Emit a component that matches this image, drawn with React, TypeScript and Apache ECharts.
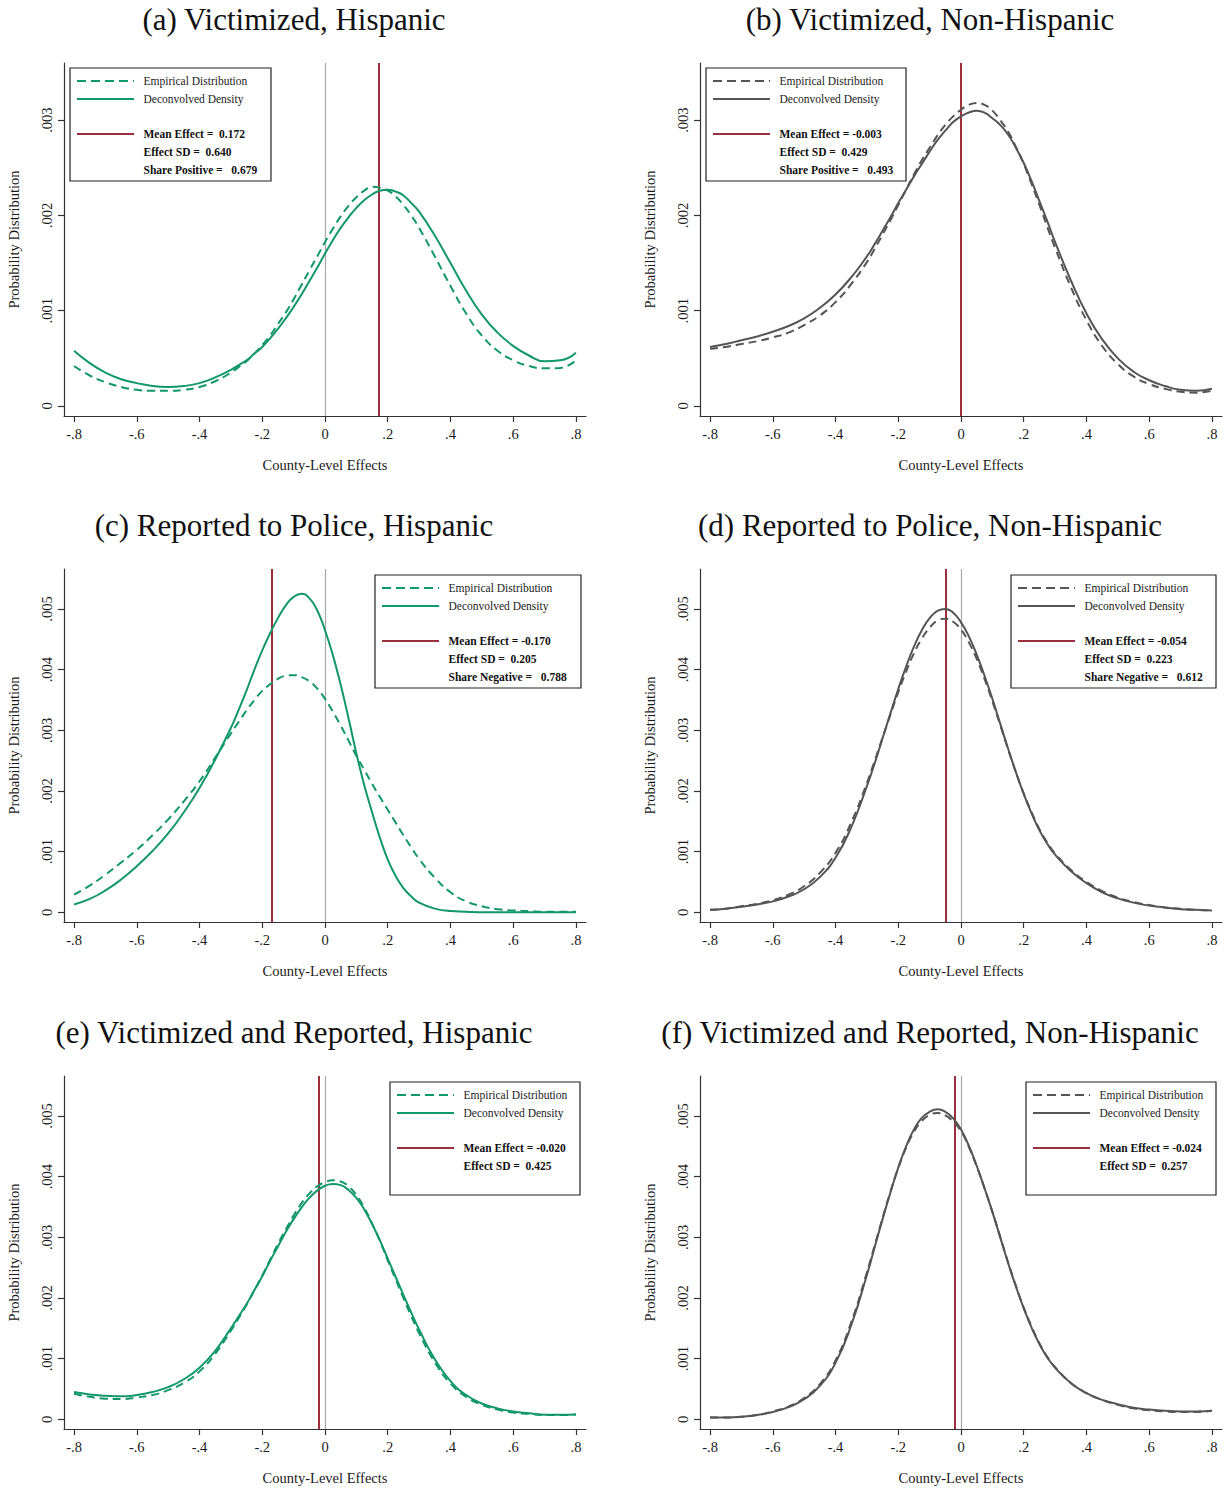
import React, { useEffect, useRef } from "react";
import * as echarts from "echarts";

// Shared x grid (county-level effects): 0.05 steps in the tails, 0.025 in the centre
const X = [
  -0.8, -0.75, -0.7, -0.65, -0.6, -0.55, -0.5, -0.45, -0.4, -0.35, -0.3,
  -0.275, -0.25, -0.225, -0.2, -0.175, -0.15, -0.125, -0.1, -0.075, -0.05, -0.025, 0,
  0.025, 0.05, 0.075, 0.1, 0.125, 0.15, 0.175, 0.2, 0.225, 0.25, 0.275, 0.3,
  0.35, 0.4, 0.45, 0.5, 0.55, 0.6, 0.65, 0.7, 0.75, 0.8,
];

// (a) Victimized, Hispanic
const VIC_HISP_EMP = [
  0.00042, 0.00032, 0.00025, 0.0002, 0.00017, 0.00016, 0.00016, 0.00017, 0.0002, 0.00026, 0.00035,
  0.00041, 0.00047, 0.00055, 0.00064, 0.00074, 0.00086, 0.00098, 0.00112, 0.00127, 0.00142, 0.00157, 0.00172,
  0.00186, 0.00199, 0.0021, 0.00219, 0.00226, 0.0023, 0.00229, 0.00226, 0.0022, 0.00211, 0.002, 0.00187,
  0.00157, 0.00126, 0.00097, 0.00074, 0.00058, 0.00048, 0.00042, 0.000395, 0.0004, 0.00048,
];
const VIC_HISP_DEC = [
  0.00058, 0.00045, 0.00035, 0.00028, 0.00024, 0.00021, 0.0002, 0.00021, 0.00024, 0.0003, 0.00038,
  0.00043, 0.00048, 0.00055, 0.00062, 0.00071, 0.00081, 0.00092, 0.00104, 0.00117, 0.00131, 0.00145, 0.0016,
  0.00174, 0.00187, 0.00198, 0.00208, 0.00216, 0.00222, 0.00226, 0.00227, 0.00225, 0.00221, 0.00213, 0.00204,
  0.00179, 0.0015, 0.00121, 0.00096, 0.00077, 0.00063, 0.00053, 0.00047, 0.00048, 0.00056,
];
// (b) Victimized, Non-Hispanic
const VIC_NONHISP_EMP = [
  0.0006, 0.00062, 0.00065, 0.00068, 0.00072, 0.00077, 0.00085, 0.00095, 0.00109, 0.00128, 0.00151,
  0.00165, 0.0018, 0.00195, 0.00211, 0.00227, 0.00243, 0.00258, 0.00271, 0.00284, 0.00295, 0.00304, 0.00311,
  0.00316, 0.00318, 0.00316, 0.0031, 0.003, 0.00288, 0.00272, 0.00254, 0.00233, 0.00211, 0.00188, 0.00166,
  0.00125, 0.0009, 0.00063, 0.00044, 0.00031, 0.00023, 0.00018, 0.00015, 0.00014, 0.00016,
];
const VIC_NONHISP_DEC = [
  0.00062, 0.00065, 0.00069, 0.00073, 0.00078, 0.00084, 0.00092, 0.00103, 0.00117, 0.00135, 0.00157,
  0.0017, 0.00184, 0.00198, 0.00213, 0.00227, 0.00241, 0.00254, 0.00267, 0.00279, 0.00289, 0.00298, 0.00304,
  0.00308, 0.0031, 0.00308, 0.00302, 0.00295, 0.00285, 0.00271, 0.00255, 0.00236, 0.00215, 0.00194, 0.00172,
  0.00132, 0.00097, 0.0007, 0.0005, 0.00036, 0.00027, 0.00021, 0.00017, 0.00016, 0.00018,
];
// (c) Reported to Police, Hispanic
const REP_HISP_EMP = [
  0.00029, 0.00044, 0.00062, 0.00082, 0.00103, 0.00127, 0.00153, 0.00183, 0.00216, 0.00255, 0.00295,
  0.00314, 0.00333, 0.0035, 0.00365, 0.00376, 0.00385, 0.0039, 0.00391, 0.00388, 0.00381, 0.00369, 0.00352,
  0.00331, 0.00308, 0.00283, 0.00258, 0.00235, 0.00212, 0.0019, 0.00169, 0.00148, 0.00127, 0.00107, 0.00088,
  0.00057, 0.00033, 0.00018, 0.0001, 0.00005, 0.00003, 0.00002, 0.00001, 0.00001, 0.00001,
];
const REP_HISP_DEC = [
  0.00013, 0.00022, 0.00036, 0.00054, 0.00076, 0.00101, 0.0013, 0.00165, 0.00205, 0.00252, 0.00304,
  0.00334, 0.00366, 0.004, 0.00432, 0.0046, 0.00485, 0.00506, 0.0052, 0.00525, 0.00518, 0.00498, 0.00465,
  0.00424, 0.00375, 0.0032, 0.00262, 0.0021, 0.00165, 0.00123, 0.00087, 0.0006, 0.0004, 0.00026, 0.00016,
  0.00006, 0.00002, 0.00001, 0, 0, 0, 0, 0, 0, 0,
];
// (d) Reported to Police, Non-Hispanic
const REP_NONHISP_EMP = [
  0.00004, 0.00006, 0.0001, 0.00014, 0.0002, 0.00029, 0.00043, 0.00065, 0.00098, 0.00148, 0.00213,
  0.0025, 0.00288, 0.00326, 0.00363, 0.00397, 0.00427, 0.00451, 0.00469, 0.00481, 0.00484, 0.00479, 0.00466,
  0.00445, 0.00418, 0.00385, 0.00348, 0.00309, 0.00269, 0.00231, 0.00196, 0.00165, 0.00137, 0.00115, 0.00097,
  0.0007, 0.0005, 0.00035, 0.00024, 0.00017, 0.00012, 0.00008, 0.00006, 0.00004, 0.00003,
];
const REP_NONHISP_DEC = [
  0.00004, 0.00006, 0.00009, 0.00013, 0.00018, 0.00026, 0.00038, 0.00058, 0.0009, 0.0014, 0.00208,
  0.00246, 0.00287, 0.00328, 0.00368, 0.00405, 0.00438, 0.00465, 0.00485, 0.00497, 0.005, 0.00494, 0.00478,
  0.00455, 0.00425, 0.0039, 0.00352, 0.00311, 0.0027, 0.00231, 0.00195, 0.00163, 0.00135, 0.00113, 0.00095,
  0.00068, 0.00048, 0.00033, 0.00023, 0.00016, 0.00011, 0.00008, 0.00005, 0.00004, 0.00003,
];
// (e) Victimized and Reported, Hispanic
const VR_HISP_EMP = [
  0.00042, 0.00037, 0.00034, 0.000335, 0.00036, 0.0004, 0.00048, 0.0006, 0.00079, 0.00108, 0.00146,
  0.00167, 0.00189, 0.00213, 0.00237, 0.00263, 0.00289, 0.00313, 0.00336, 0.00356, 0.00372, 0.00384, 0.00391,
  0.00394, 0.00392, 0.00384, 0.0037, 0.00349, 0.00323, 0.00294, 0.00262, 0.00231, 0.002, 0.0017, 0.00142,
  0.00094, 0.00059, 0.00037, 0.00024, 0.00016, 0.00011, 0.00009, 0.00007, 0.00007, 0.00008,
];
const VR_HISP_DEC = [
  0.00045, 0.00041, 0.00039, 0.00038, 0.0004, 0.00045, 0.00053, 0.00066, 0.00085, 0.00113, 0.0015,
  0.0017, 0.0019, 0.00213, 0.00236, 0.00261, 0.00285, 0.00309, 0.0033, 0.00349, 0.00365, 0.00377, 0.00385,
  0.00388, 0.00386, 0.00378, 0.00365, 0.00346, 0.00322, 0.00295, 0.00265, 0.00235, 0.00205, 0.00176, 0.00148,
  0.00099, 0.00063, 0.0004, 0.00026, 0.00018, 0.00013, 0.0001, 0.000075, 0.000075, 0.00008,
];
// (f) Victimized and Reported, Non-Hispanic
const VR_NONHISP_EMP = [
  0.00003, 0.00003, 0.00004, 0.00007, 0.00013, 0.00021, 0.00035, 0.00058, 0.00097, 0.0016, 0.00242,
  0.00287, 0.00332, 0.00375, 0.00414, 0.00448, 0.00474, 0.00492, 0.00502, 0.00505, 0.00501, 0.00491, 0.00475,
  0.00449, 0.00417, 0.00381, 0.00342, 0.00301, 0.00259, 0.0022, 0.00184, 0.00153, 0.00125, 0.00103, 0.00086,
  0.0006, 0.00043, 0.00032, 0.00024, 0.00018, 0.00015, 0.00013, 0.00012, 0.00012, 0.00014,
];
const VR_NONHISP_DEC = [
  0.00003, 0.00003, 0.00004, 0.00007, 0.00012, 0.0002, 0.00033, 0.00055, 0.00093, 0.00155, 0.00238,
  0.00284, 0.0033, 0.00374, 0.00415, 0.0045, 0.00478, 0.00497, 0.00507, 0.00511, 0.00507, 0.00496, 0.00478,
  0.00451, 0.00418, 0.00381, 0.00342, 0.003, 0.00258, 0.00219, 0.00183, 0.00151, 0.00124, 0.00102, 0.00085,
  0.0006, 0.00043, 0.00032, 0.00025, 0.00019, 0.00016, 0.00014, 0.00013, 0.00013, 0.00014,
];

const MEAN_EFFECTS = [0.172, -0.003, -0.17, -0.054, -0.02, -0.024];

const TITLES = [
  "(a) Victimized, Hispanic",
  "(b) Victimized, Non-Hispanic",
  "(c) Reported to Police, Hispanic",
  "(d) Reported to Police, Non-Hispanic",
  "(e) Victimized and Reported, Hispanic",
  "(f) Victimized and Reported, Non-Hispanic",
];

const STATS = [
  ["Mean Effect =  0.172", "Effect SD =  0.640", "Share Positive =   0.679"],
  ["Mean Effect = -0.003", "Effect SD =  0.429", "Share Positive =   0.493"],
  ["Mean Effect = -0.170", "Effect SD =  0.205", "Share Negative =   0.788"],
  ["Mean Effect = -0.054", "Effect SD =  0.223", "Share Negative =   0.612"],
  ["Mean Effect = -0.020", "Effect SD =  0.425"],
  ["Mean Effect = -0.024", "Effect SD =  0.257"],
];

const LEGEND_LABELS = ["Empirical Distribution", "Deconvolved Density"];
const X_TICKS = [-0.8, -0.6, -0.4, -0.2, 0, 0.2, 0.4, 0.6, 0.8];
const Y_TICKS_ROW1 = [0, 0.001, 0.002, 0.003];
const Y_TICKS_ROW23 = [0, 0.001, 0.002, 0.003, 0.004, 0.005];

const EMP = [VIC_HISP_EMP, VIC_NONHISP_EMP, REP_HISP_EMP, REP_NONHISP_EMP, VR_HISP_EMP, VR_NONHISP_EMP];
const DEC = [VIC_HISP_DEC, VIC_NONHISP_DEC, REP_HISP_DEC, REP_NONHISP_DEC, VR_HISP_DEC, VR_NONHISP_DEC];

// Layout (styles)
const GREEN = "#12976b";
const GRAY = "#555555";
const RED = "#9b303c";
const SERIF = '"Liberation Serif", "Times New Roman", serif';
const COL_LEFT = [64, 700];
const ROW_TOP = [63, 569, 1076];
const GRID_W = 522;
const GRID_H = 353;
const TITLE_X = [294, 930];
const LEGEND_BOX = [
  { x: 70, y: 68, w: 201 },
  { x: 706, y: 68, w: 200 },
  { x: 375, y: 575, w: 206 },
  { x: 1011, y: 575, w: 205 },
  { x: 390, y: 1082, w: 190 },
  { x: 1026, y: 1082, w: 190 },
];

const fmtX = (v: number) => (Math.abs(v) < 1e-9 ? "0" : v.toFixed(1).replace("0.", "."));
const fmtY = (v: number) => (Math.abs(v) < 1e-12 ? "0" : v.toFixed(3).replace("0.", "."));
const nb = (s: string) => s.replace(/  /g, "\u00a0 ");

export default function App() {
  const ref = useRef<HTMLDivElement>(null);

  useEffect(() => {
    if (!ref.current) return;
    const chart = echarts.init(ref.current, null, { renderer: "svg" });

    const grids: any[] = [];
    const xAxes: any[] = [];
    const yAxes: any[] = [];
    const series: any[] = [];
    const graphics: any[] = [];

    for (let i = 0; i < 6; i++) {
      const col = i % 2;
      const row = Math.floor(i / 2);
      const left = COL_LEFT[col];
      const top = ROW_TOP[row];
      const color = col === 0 ? GREEN : GRAY;
      const yTicks = row === 0 ? Y_TICKS_ROW1 : Y_TICKS_ROW23;
      const yMin = row === 0 ? -0.000105 : -0.00016;
      const yMax = row === 0 ? 0.0036 : 0.00566;

      grids.push({ left, top, width: GRID_W, height: GRID_H, containLabel: false });

      xAxes.push({
        gridIndex: i,
        type: "value",
        min: -0.832,
        max: 0.832,
        axisLine: { onZero: false, lineStyle: { color: "#333", width: 1.2 } },
        axisTick: { customValues: X_TICKS, length: 6, lineStyle: { color: "#333", width: 1.2 } },
        axisLabel: {
          customValues: X_TICKS,
          formatter: fmtX,
          margin: 10,
          fontFamily: SERIF,
          fontSize: 14.5,
          color: "#1a1a1a",
        },
        splitLine: { show: false },
        name: "County-Level Effects",
        nameLocation: "middle",
        nameGap: 41,
        nameTextStyle: { fontFamily: SERIF, fontSize: 14.5, color: "#1a1a1a" },
      });

      yAxes.push({
        gridIndex: i,
        type: "value",
        min: yMin,
        max: yMax,
        axisLine: { show: true, onZero: false, lineStyle: { color: "#333", width: 1.2 } },
        axisTick: { show: true, customValues: yTicks, length: 6, lineStyle: { color: "#333", width: 1.2 } },
        axisLabel: {
          customValues: yTicks,
          formatter: fmtY,
          rotate: 90,
          margin: 9.5,
          fontFamily: SERIF,
          fontSize: 14.5,
          color: "#1a1a1a",
        },
        splitLine: { show: false },
        name: "Probability Distribution",
        nameLocation: "middle",
        nameGap: 42.5,
        nameTextStyle: { fontFamily: SERIF, fontSize: 14.5, color: "#1a1a1a" },
      });

      series.push({
        type: "line",
        xAxisIndex: i,
        yAxisIndex: i,
        name: LEGEND_LABELS[0],
        data: X.map((x, j) => [x, EMP[i][j]]),
        smooth: 0.5,
        showSymbol: false,
        symbol: "none",
        z: 3,
        lineStyle: { color, width: 2, type: [8, 5] },
      });
      series.push({
        type: "line",
        xAxisIndex: i,
        yAxisIndex: i,
        name: LEGEND_LABELS[1],
        data: X.map((x, j) => [x, DEC[i][j]]),
        smooth: 0.5,
        showSymbol: false,
        symbol: "none",
        z: 3,
        lineStyle: { color, width: 2, type: "solid" },
        markLine: {
          silent: true,
          symbol: ["none", "none"],
          label: { show: false },
          animation: false,
          z: 2,
          data: [
            { xAxis: 0, lineStyle: { color: "#a8a8a8", width: 1.2, type: "solid" } },
            { xAxis: MEAN_EFFECTS[i], lineStyle: { color: RED, width: 2, type: "solid" } },
          ],
        },
      });

      // Title
      graphics.push({
        type: "text",
        x: TITLE_X[col],
        y: top - 44,
        style: {
          text: TITLES[i],
          font: `31px ${SERIF}`,
          fill: "#111",
          align: "center",
          verticalAlign: "middle",
          textAlign: "center",
          textVerticalAlign: "middle",
        },
      });

      // Legend box
      const b = LEGEND_BOX[i];
      graphics.push({
        type: "rect",
        shape: { x: b.x, y: b.y, width: b.w, height: 113 },
        style: { fill: "#fff", stroke: "#222", lineWidth: 1.2 },
        z: 10,
      });
      const lx1 = b.x + 7;
      const lx2 = b.x + 64;
      const tx = b.x + 73.5;
      const rowsY = [13, 31, 66, 84, 102].map((d) => b.y + d);
      graphics.push({
        type: "line",
        shape: { x1: lx1, y1: rowsY[0], x2: lx2, y2: rowsY[0] },
        style: { stroke: color, lineWidth: 2, lineDash: [9, 5] },
        z: 11,
      });
      graphics.push({
        type: "line",
        shape: { x1: lx1, y1: rowsY[1], x2: lx2, y2: rowsY[1] },
        style: { stroke: color, lineWidth: 2 },
        z: 11,
      });
      graphics.push({
        type: "line",
        shape: { x1: lx1, y1: rowsY[2], x2: lx2, y2: rowsY[2] },
        style: { stroke: RED, lineWidth: 2 },
        z: 11,
      });
      LEGEND_LABELS.forEach((t, k) => {
        graphics.push({
          type: "text",
          x: tx,
          y: rowsY[k],
          z: 11,
          style: {
            text: t,
            font: `11.5px ${SERIF}`,
            fill: "#1a1a1a",
            align: "left",
            verticalAlign: "middle",
            textAlign: "left",
            textVerticalAlign: "middle",
          },
        });
      });
      STATS[i].forEach((t, k) => {
        graphics.push({
          type: "text",
          x: tx,
          y: rowsY[2 + k],
          z: 11,
          style: {
            text: nb(t),
            font: `bold 11.5px ${SERIF}`,
            fill: "#111",
            align: "left",
            verticalAlign: "middle",
            textAlign: "left",
            textVerticalAlign: "middle",
          },
        });
      });
    }

    chart.setOption({
      animation: false,
      backgroundColor: "#ffffff",
      grid: grids,
      xAxis: xAxes,
      yAxis: yAxes,
      series,
      graphic: { elements: graphics },
    });

    return () => {
      chart.dispose();
    };
  }, []);

  return (
    <div
      ref={ref}
      style={{ position: "absolute", left: 0, top: 0, width: 1225, height: 1489, background: "#fff" }}
    />
  );
}
